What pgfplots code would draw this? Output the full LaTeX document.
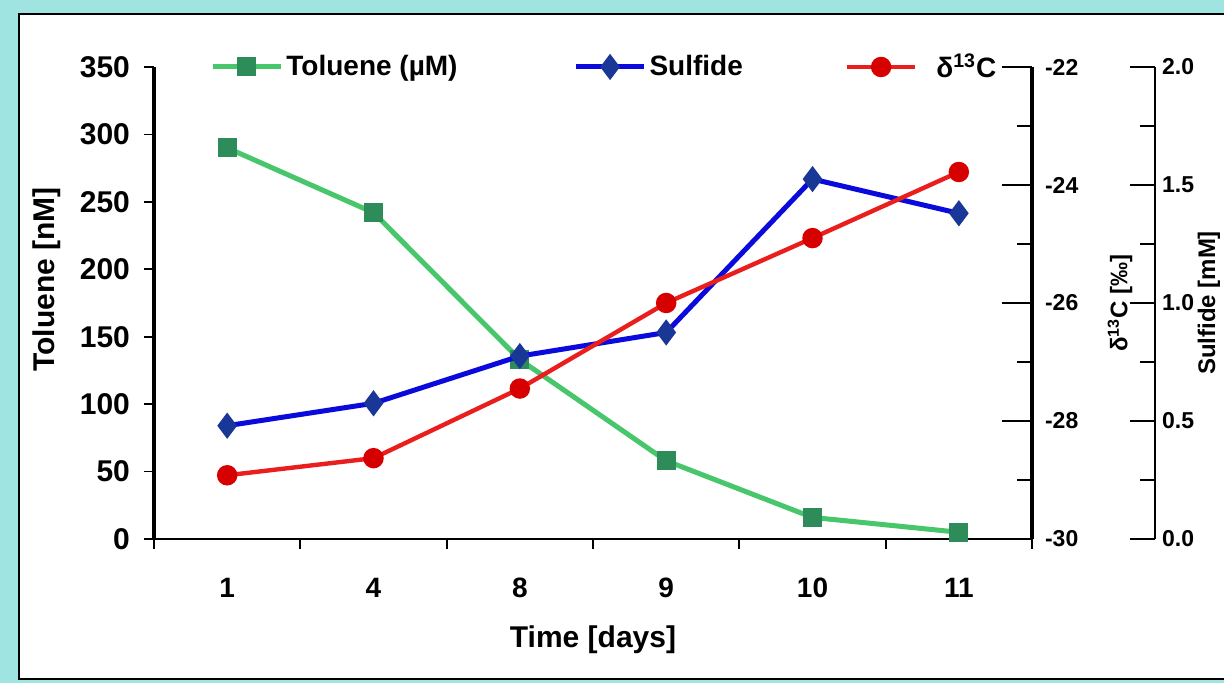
\documentclass[border=0pt]{standalone}
\usepackage{pgfplots}
\pgfplotsset{compat=1.18}
\usepackage{fontspec}
\setmainfont{Liberation Sans}
\definecolor{bgcyan}{RGB}{160,228,226}
\definecolor{tolline}{RGB}{72,198,108}
\definecolor{tolmark}{RGB}{46,140,90}
\definecolor{sulline}{RGB}{10,10,220}
\definecolor{sulmark}{RGB}{25,55,150}
\definecolor{dline}{RGB}{235,30,30}
\definecolor{dmark}{RGB}{215,0,0}
\pgfplotsset{
  mylegend/.style={legend image code/.code={\draw[mark repeat=2,mark phase=2,##1] plot coordinates {(0pt,0pt) (17pt,0pt) (34pt,0pt)};}},
}
\begin{document}
\begin{tikzpicture}
\useasboundingbox (0,0) rectangle (612pt,341.5pt);
\clip (0,0) rectangle (612pt,341.5pt);
\fill[bgcyan] (0,0) rectangle (612pt,341.5pt);
\filldraw[fill=white, draw=black, line width=1pt] (9.5pt,2pt) rectangle (625pt,334.5pt);
% main axis: toluene
\begin{axis}[
  at={(77pt,72pt)}, anchor=south west,
  scale only axis, width=439pt, height=236pt,
  xmin=0.5, xmax=6.5, ymin=0, ymax=350,
  axis x line*=bottom, axis y line*=left,
  axis line style={-},
  x axis line style={line width=1pt},
  y axis line style={line width=1.6pt},
  xtick={0.5,1.5,...,6.5}, x tick label as interval,
  xticklabels={1,4,8,9,10,11},
  ytick={0,50,...,350},
  yticklabels={0,50,100,150,200,250,300,350},
  tick align=outside,
  major tick length=5pt,
  tick style={black, line width=0.9pt},
  ticklabel style={font=\bfseries\fontsize{14}{14}\selectfont},
  xticklabel style={yshift=-11pt},
  yticklabel style={font=\bfseries\fontsize{15}{15}\selectfont, xshift=-3.5pt},
  xlabel={Time [days]}, ylabel={Toluene [nM]},
  label style={font=\bfseries\fontsize{15}{15}\selectfont},
  xlabel style={at={(axis description cs:0.5,0)}, anchor=center, yshift=-50.5pt},
  ylabel style={at={(axis description cs:0,0.55)}, anchor=center, yshift=53.5pt},
  clip=false,
  mylegend,
  legend columns=3,
  legend style={draw=none, fill=none, at={(rel axis cs:0.0638,1)}, anchor=west,
    inner sep=0pt, font=\bfseries\fontsize{14}{14}\selectfont,
    nodes={inner sep=1.5pt},
    /tikz/column 2/.style={column sep=56.5pt},
    /tikz/column 4/.style={column sep=49.5pt}},
]
\addlegendimage{tolline, line width=2.5pt, mark=square*, mark options={tolmark, solid}, mark size=3.5pt}
\addlegendentry{Toluene (µM)}
\addlegendimage{sulline, line width=2.5pt, mark=diamond*, mark options={sulmark, solid}, mark size=4.5pt}
\addlegendentry{Sulfide}
\addlegendimage{dline, line width=2.2pt, mark=*, mark options={dmark, solid}, mark size=4pt}
\addlegendentry{\hspace{8pt}δ\textsuperscript{13}C}
\addplot[tolline, line width=2.5pt, mark=square*, mark options={tolmark}, mark size=3.5pt]
  coordinates {(1,290) (2,242) (3,133) (4,58) (5,16) (6,5)};
\end{axis}
% sulfide axis (offset to the right)
\begin{axis}[
  at={(77pt,72pt)}, anchor=south west,
  scale only axis, width=500.5pt, height=236pt,
  xmin=0.5, xmax=7.3405, ymin=0, ymax=2,
  axis x line=none, axis y line*=right,
  axis line style={-, line width=0.9pt},
  ytick={0,0.5,...,2}, yticklabels={0.0,0.5,1.0,1.5,2.0},
  minor ytick={0.25,0.75,1.25,1.75},
  tick align=inside,
  major tick length=12.5pt, minor tick length=7.5pt,
  tick style={black, line width=0.9pt},
  ticklabel style={font=\bfseries\fontsize{11.5}{11.5}\selectfont},
  ylabel={Sulfide [mM]},
  ylabel style={font=\bfseries\fontsize{12}{12}\selectfont, at={(axis description cs:1,0.5)}, anchor=center, yshift=-27pt},
  clip=false,
]
\addplot[sulline, line width=2.5pt, mark=diamond*, mark options={sulmark}, mark size=4.5pt]
  coordinates {(1,0.48) (2,0.575) (3,0.775) (4,0.875) (5,1.525) (6,1.38)};
\end{axis}
% delta 13C axis
\begin{axis}[
  at={(77pt,72pt)}, anchor=south west,
  scale only axis, width=439pt, height=236pt,
  xmin=0.5, xmax=6.5, ymin=-30, ymax=-22,
  axis x line=none, axis y line*=right,
  axis line style={-, line width=2.2pt},
  ytick={-30,-28,...,-22}, yticklabels={-30,-28,-26,-24,-22},
  minor ytick={-29,-27,-25,-23},
  tick align=inside,
  major tick length=15pt, minor tick length=7.5pt,
  tick style={black, line width=0.9pt},
  ticklabel style={font=\bfseries\fontsize{11.5}{11.5}\selectfont},
  yticklabel style={xshift=3pt},
  ylabel={δ\textsuperscript{13}C [‰]},
  ylabel style={font=\bfseries\fontsize{12}{12}\selectfont, at={(axis description cs:1,0.5)}, anchor=center, yshift=-44pt},
  clip=false,
]
\addplot[dline, line width=2.2pt, mark=*, mark options={dmark}, mark size=4pt]
  coordinates {(1,-28.92) (2,-28.63) (3,-27.45) (4,-26.0) (5,-24.9) (6,-23.78)};
\end{axis}
\end{tikzpicture}
\end{document}
